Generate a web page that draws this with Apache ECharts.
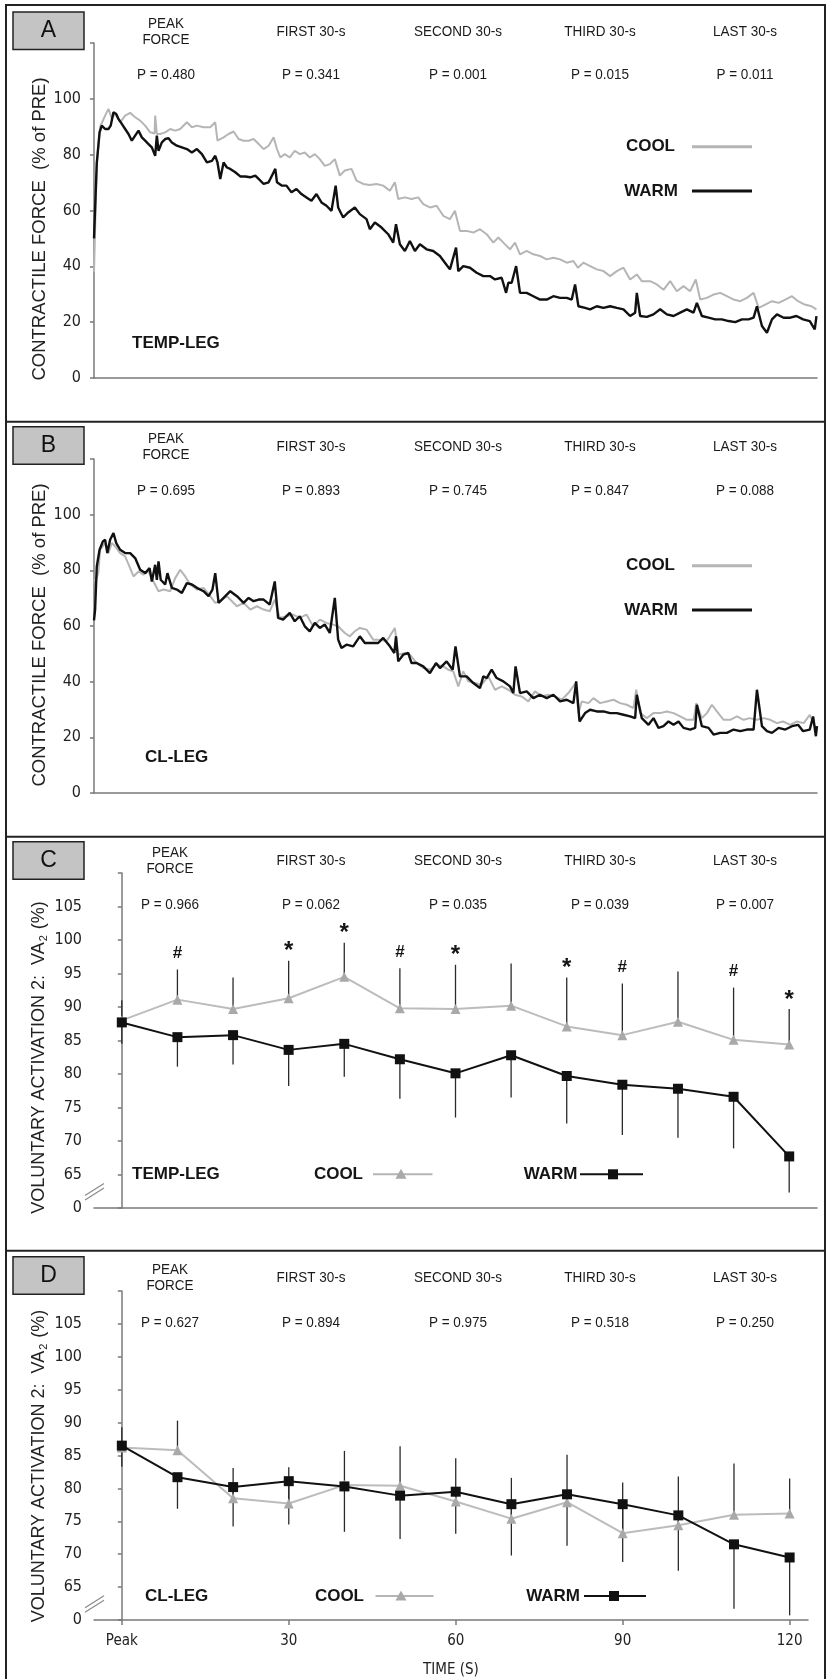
<!DOCTYPE html>
<html>
<head>
<meta charset="utf-8">
<script src="https://cdn.jsdelivr.net/npm/echarts@6/dist/echarts.min.js"></script>
<style>
html,body{margin:0;padding:0;background:#fff;}
#chart{width:827px;height:1679px;}
</style>
</head>
<body>
<div id="chart"></div>
<script>
// ---------------- DATA ----------------
const sections = ['PEAK\nFORCE', 'FIRST 30-s', 'SECOND 30-s', 'THIRD 30-s', 'LAST 30-s'];
const pA = ['0.480', '0.341', '0.001', '0.015', '0.011'];
const pB = ['0.695', '0.893', '0.745', '0.847', '0.088'];
const pC = ['0.966', '0.062', '0.035', '0.039', '0.007'];
const pD = ['0.627', '0.894', '0.975', '0.518', '0.250'];

// Panel A traces [time (s), force %PRE]
const aCool = [[0,38],[0.5,77],[1.1,90],[2.0,94],[2.6,96.4],[3.2,93],[3.8,94.6],[4.7,91.6],[5.6,94],[6.5,95],[7.4,93.4],[8.3,92.2],[9.2,90.4],[10.1,88],[10.9,87.6],[11.0,94],[11.3,87.4],[11.9,87.4],[12.8,88],[13.7,89.2],[14.6,88.6],[15.5,89.2],[16.7,91.6],[17.6,89.8],[18.5,90.4],[19.7,89.8],[20.9,89.8],[21.8,91.6],[22.2,85],[23.3,86.2],[24.2,87.4],[25.1,88.3],[26.0,85.6],[26.9,85],[27.8,85],[28.7,85.6],[29.6,83.8],[30.5,82],[31.4,83.2],[32.3,86.2],[32.9,82],[33.5,79],[34.3,80.2],[35.2,79],[36.1,81.4],[37.0,80.2],[37.9,80.8],[38.8,79],[39.7,80.2],[40.6,78.4],[41.5,76],[42.4,76.6],[43.3,78.4],[44.2,72.5],[45.1,74.3],[46.3,74.9],[47.2,70.7],[48.4,69.5],[49.6,69.1],[50.8,69.5],[52.0,68.9],[53.2,67.1],[54.1,70.1],[54.7,64.1],[55.9,64.7],[57.1,64.1],[58.3,64.7],[59.2,62.3],[60.4,61.1],[61.6,61.7],[62.8,58.1],[64.0,56.9],[64.9,59.9],[65.8,52.7],[67.0,52.7],[68.2,52.1],[69.4,53.3],[70.6,51.5],[71.8,48.5],[72.7,50.3],[73.6,48.5],[74.8,46.1],[75.7,48.5],[76.6,44.3],[77.8,45.5],[79.0,44.3],[80.2,43.7],[81.4,42.5],[82.6,43.1],[83.8,42.5],[85.0,41.3],[86.2,41.9],[87.0,39.5],[88.0,41.3],[89.2,40.1],[90.4,38.9],[91.6,38.3],[92.8,36.5],[94.0,38.3],[95.2,39.5],[96.4,35.3],[97.6,37.1],[98.5,34.7],[100.0,34.7],[101.2,33.5],[102.4,31.6],[103.6,34.7],[104.8,31.1],[106.0,32.9],[107.2,31.1],[108.2,35.3],[109.0,28.1],[110.2,28.7],[111.4,29.9],[112.6,30.5],[113.8,29.3],[115.0,28.1],[116.2,27.5],[117.4,28.7],[118.6,30.5],[119.5,25.1],[120.7,26.3],[121.9,27.5],[123.1,26.9],[124.3,28.1],[125.5,29.3],[126.6,27.5],[127.8,26.3],[129.0,25.7],[129.9,24.6]];
const aWarm = [[0,50],[0.5,77],[1.0,88],[1.4,90.4],[2.0,89.2],[2.6,89.2],[3.0,90.4],[3.5,95.2],[4.0,94.6],[4.4,92.8],[5.0,91],[5.6,89.2],[6.2,87.4],[6.8,85],[7.4,86.8],[8.0,88.6],[8.6,86.2],[9.2,85],[9.8,83.8],[10.4,82.6],[11.0,79.6],[11.3,86.8],[11.6,81.4],[12.2,84.4],[12.8,85.6],[13.4,85.9],[14.0,84.4],[14.9,83.2],[15.8,82.6],[16.7,82],[17.6,80.8],[18.5,82],[19.4,80.2],[20.3,77.2],[21.2,77.8],[21.8,79.6],[22.2,77.2],[22.7,71.3],[23.3,77.2],[23.9,75.4],[24.5,74.9],[25.4,73.7],[26.3,72.2],[27.2,72.2],[28.1,71.9],[29.0,72.5],[29.6,71.3],[30.5,69.5],[31.4,70.1],[32.3,73.7],[32.6,74.9],[32.9,70.1],[33.8,68.9],[34.6,68.9],[35.5,66.5],[36.4,67.7],[37.3,65.9],[38.2,64.7],[39.1,63.5],[40.0,65.9],[40.9,62.9],[41.8,61.7],[42.7,59.9],[43.0,59.9],[43.45,68.9],[43.9,61.1],[44.8,57.5],[45.7,59.3],[46.9,61.1],[47.8,58.7],[49.0,56.9],[49.6,53.3],[50.5,55.7],[51.7,53.9],[52.9,51.5],[53.8,48.5],[54.3,55.1],[55.0,47.9],[55.9,45.5],[56.8,49.1],[57.7,45.5],[58.6,47.9],[59.8,46.1],[61.0,45.5],[62.2,43.7],[63.1,41.3],[64.0,38.9],[65.1,46.7],[65.5,38.3],[66.4,40.1],[67.6,39.5],[68.8,37.7],[70.0,36.5],[71.2,36.5],[72.1,35.3],[73.3,35.9],[74.1,30.5],[74.5,34.1],[75.1,34.1],[75.9,40.1],[76.6,30.5],[77.8,30.5],[79.0,29.3],[80.2,28.1],[81.4,28.1],[82.6,29.3],[83.8,28.7],[85.0,28.7],[85.9,28.1],[86.5,33.5],[87.1,25.7],[88.3,25.1],[89.2,24.6],[90.4,25.7],[91.6,25.1],[92.8,25.7],[94.0,25.1],[95.2,24.6],[96.4,22.2],[97.3,23.4],[97.6,30.5],[98.2,22.2],[99.4,21.9],[100.6,22.8],[101.8,24.6],[103.0,22.8],[104.2,22.2],[105.4,23.4],[106.6,24.6],[107.8,23.4],[108.4,26.9],[109.3,22.2],[110.5,21.6],[111.7,21.0],[112.9,21.0],[114.1,20.4],[115.3,20.0],[116.5,21.0],[117.7,21.0],[118.6,21.6],[119.2,25.7],[120.1,18.6],[121.0,16.2],[121.9,21.0],[122.8,22.8],[124.0,21.6],[125.2,21.6],[126.3,22.2],[127.5,21.0],[128.7,20.4],[129.6,17.4],[129.9,22.2]];

// Panel B traces
const bCool = [[0,76],[0.5,77.2],[0.8,79.6],[1.1,87.4],[2.0,89.8],[2.6,86.2],[3.2,89.8],[3.8,88.6],[4.7,86.2],[5.6,85],[6.5,80.8],[7.1,77.8],[8.0,79.6],[8.9,78.4],[9.8,79.6],[10.7,76],[11.6,72.5],[12.5,73.1],[13.7,72.5],[14.6,77.2],[15.5,80.2],[16.4,77.8],[17.3,74.9],[18.5,73.1],[19.7,73.7],[20.9,70.7],[21.8,68.3],[22.7,68.9],[23.9,70.7],[24.8,68.9],[25.7,67.1],[26.9,68.3],[28.1,65.9],[29.3,67.1],[30.5,65.9],[31.6,65.3],[32.5,69.5],[33.4,62.9],[34.6,63.5],[35.8,64.1],[37.0,62.9],[38.2,64.1],[39.4,59.9],[40.6,62.3],[41.8,61.1],[43.0,60.5],[43.9,59.9],[45.1,57.5],[46.0,56.3],[46.9,58.1],[47.8,59.3],[49.0,58.7],[50.2,55.1],[51.4,55.1],[52.6,54.5],[54.1,59.3],[54.7,49.7],[55.9,50.3],[56.8,49.7],[58.0,46.7],[59.2,44.9],[60.4,44.3],[61.6,46.1],[62.8,45.5],[63.7,44.3],[64.6,43.7],[65.5,38.3],[66.4,43.7],[67.3,40.1],[68.5,39.5],[69.7,38.9],[70.9,41.9],[72.1,37.1],[73.3,38.3],[74.5,37.1],[75.7,35.3],[76.9,34.7],[78.1,32.9],[79.3,36.5],[80.5,34.7],[81.7,35.3],[82.9,34.7],[84.1,33.5],[85.3,35.9],[86.6,39.5],[87.1,28.7],[87.7,32.9],[88.9,32.3],[89.8,34.1],[91.0,32.3],[92.2,32.9],[93.4,33.5],[94.6,32.3],[95.8,31.7],[97.0,30.5],[97.5,37.1],[98.2,28.7],[99.4,26.9],[100.6,28.7],[101.8,28.7],[103.0,29.3],[104.2,28.7],[105.4,27.5],[106.6,26.3],[107.8,26.3],[108.3,32.3],[109.3,26.9],[110.2,28.7],[111.1,31.7],[112.0,29.3],[113.2,26.3],[114.4,26.3],[115.6,27.5],[116.8,26.3],[117.9,26.9],[119.2,26.3],[120.4,26.9],[121.6,26.3],[122.8,25.1],[123.9,25.7],[125.2,24.5],[126.4,25.7],[127.6,25.1],[128.7,28.1],[129.6,24.0]];
const bWarm = [[0,62],[0.2,65.9],[0.5,81.4],[1.0,87.4],[1.6,90.4],[2.0,91],[2.4,86.2],[2.9,91],[3.5,93.4],[4.0,89.8],[4.7,87.4],[5.6,86.2],[6.5,86.2],[7.4,84.4],[8.3,80.2],[9.2,79],[10.0,80.8],[10.4,76],[11.0,82],[11.3,76.6],[11.6,83.2],[12.0,76.6],[12.8,74.9],[13.2,79],[14.0,73.7],[14.9,73.1],[15.8,71.9],[16.7,75.4],[17.6,74.9],[18.5,73.7],[19.7,72.5],[20.6,70.7],[21.3,73.1],[21.8,79],[22.4,68.3],[23.3,70.1],[24.5,72.5],[25.7,70.7],[26.9,68.3],[27.8,70.1],[28.7,68.9],[29.6,69.5],[30.5,69.5],[31.6,67.7],[32.5,76],[33.1,62.9],[34.0,62.3],[35.2,64.7],[36.1,61.7],[37.0,63.5],[37.9,59.9],[38.8,58.1],[39.7,61.1],[40.6,59.3],[41.5,60.5],[42.4,57.5],[43.3,70.1],[43.9,55.1],[44.5,52.1],[45.4,53.3],[46.6,52.7],[47.8,56.3],[48.7,53.9],[49.9,53.9],[51.1,53.9],[52.0,55.7],[53.2,52.7],[54.0,50.3],[54.3,56.3],[54.7,47.3],[55.6,49.7],[56.5,50.3],[57.1,46.7],[58.0,46.7],[59.2,45.5],[60.4,43.1],[61.5,46.7],[62.2,44.9],[63.4,47.3],[64.5,44.3],[65.0,52.7],[65.8,41.9],[67.0,41.9],[68.2,39.5],[69.4,37.7],[70.0,41.9],[70.6,41.3],[71.5,44.3],[72.4,41.3],[73.6,40.1],[74.8,38.3],[75.4,35.9],[75.8,45.5],[76.6,35.9],[77.8,36.5],[79.0,34.1],[80.2,35.3],[81.4,34.1],[82.6,35.3],[83.8,32.9],[85.0,33.5],[86.2,32.3],[86.7,40.1],[87.3,25.7],[88.3,28.7],[89.2,29.9],[90.4,29.3],[91.6,29.3],[92.8,28.7],[94.0,28.7],[95.2,28.1],[96.4,27.5],[97.3,26.9],[97.6,35.3],[98.5,26.9],[99.7,24.5],[100.6,26.9],[101.5,23.4],[102.4,24.0],[103.3,25.7],[104.2,24.5],[105.1,25.7],[106.0,23.4],[107.2,22.8],[108.1,23.4],[108.4,31.7],[109.3,24.0],[110.5,23.4],[111.4,21.0],[112.6,21.6],[113.8,21.6],[115.0,22.8],[116.2,22.2],[117.4,22.8],[118.6,22.8],[119.2,37.1],[120.1,24.0],[121.0,22.2],[121.9,21.6],[123.1,23.4],[124.3,22.8],[125.5,24.0],[126.6,24.5],[127.5,22.2],[128.7,22.8],[129.3,27.5],[129.8,20.4],[130.0,24.0]];

// Panels C & D : voluntary activation (VA2, %)
const vaTime = [0, 10, 20, 30, 40, 50, 60, 70, 80, 90, 100, 110, 120];
const cCoolMean = [88.0, 91.1, 89.7, 91.3, 94.5, 89.8, 89.7, 90.2, 87.1, 85.8, 87.8, 85.1, 84.4];
const cCoolTop  = [91.0, 95.6, 94.4, 96.9, 99.6, 95.8, 96.3, 96.5, 94.4, 93.5, 95.3, 92.9, 89.7];
const cWarmMean = [87.7, 85.5, 85.8, 83.6, 84.5, 82.2, 80.1, 82.8, 79.7, 78.4, 77.8, 76.6, 67.7];
const cWarmLow  = [84.5, 81.1, 81.4, 78.2, 79.6, 76.3, 73.5, 76.5, 72.6, 70.9, 70.5, 68.9, 62.3];
const cSig      = ['', '#', '', '*', '*', '#', '*', '', '*', '#', '', '#', '*'];
const dCoolMean = [86.2, 85.8, 78.5, 77.7, 80.5, 80.4, 78.0, 75.4, 77.9, 73.2, 74.4, 76.0, 76.2];
const dCoolTop  = [89.3, 90.3, 83.1, 83.2, 85.7, 86.4, 84.6, 81.6, 85.1, 80.9, 81.8, 83.8, 81.5];
const dWarmMean = [86.5, 81.7, 80.2, 81.1, 80.3, 78.9, 79.5, 77.6, 79.1, 77.6, 75.9, 71.5, 69.5];
const dWarmLow  = [83.3, 76.9, 74.2, 74.5, 73.4, 72.3, 73.1, 69.8, 71.3, 68.8, 67.5, 61.7, 60.7];
const timeTicks = [0, 30, 60, 90, 120];
const timeTickLabels = ['Peak', '30', '60', '90', '120'];

// ---------------- STYLE / LAYOUT ----------------
const NARROW = "'Liberation Sans Narrow','Arial Narrow','DejaVu Sans Condensed',sans-serif";
const SANS = "'Liberation Sans',Arial,sans-serif";
const GRAY = '#b5b5b5';
const AXIS = '#7a7a7a';

const chart = echarts.init(document.getElementById('chart'), null, {renderer: 'canvas'});

const panels = [
  {letter: 'A', boxTop: 12,    hdr: 31.5,   pY: 75,     peakX: 166, titleY: 229,  p: pA, tag: 'TEMP-LEG', tagX: 132, tagY: 343.3, legCool: 146.7, legWarm: 191, kind: 'force'},
  {letter: 'B', boxTop: 426.7, hdr: 446.5,  pY: 490.7,  peakX: 166, titleY: 635,  p: pB, tag: 'CL-LEG',   tagX: 145, tagY: 757.3, legCool: 565.7, legWarm: 610, kind: 'force'},
  {letter: 'C', boxTop: 841.7, hdr: 861.3,  pY: 905,    peakX: 170, titleY: 1057.5, p: pC, tag: 'TEMP-LEG', tagX: 132, tagY: 1174.3, leg: 1174.3, kind: 'va', coolTx: 363, coolL: [373, 432.5], coolSym: 401, warmTx: 577.5, warmL: [580, 643], warmSym: 613},
  {letter: 'D', boxTop: 1256.7, hdr: 1277.8, pY: 1323.3, peakX: 170, titleY: 1466, p: pD, tag: 'CL-LEG',   tagX: 145, tagY: 1596, leg: 1596, kind: 'va', coolTx: 364, coolL: [375.5, 433.5], coolSym: 401, warmTx: 580, warmL: [584, 646], warmSym: 614}
];
const hdrX = [null, 311, 458, 600, 745];

const g = [];
// outer frame & separators
g.push({type: 'rect', z: 50, shape: {x: 6, y: 5, width: 819, height: 1690}, style: {fill: 'none', stroke: '#222', lineWidth: 2}});
[421.7, 836.7, 1250.7].forEach(y => g.push({type: 'line', z: 50, shape: {x1: 6, y1: y, x2: 825, y2: y}, style: {stroke: '#222', lineWidth: 2}}));

function text(x, y, s, o) {
  return {type: 'text', z: 60, x: x, y: y, style: Object.assign({text: s, textAlign: 'center', textVerticalAlign: 'middle', fill: '#151515', fontFamily: NARROW, fontSize: 15}, o || {})};
}
function hdrText(x, y, s) {
  const t = text(x, y, s, {fontFamily: SANS, fontSize: 15, lineHeight: 16, fill: '#1a1a1a'});
  t.scaleX = 0.9;
  return t;
}

panels.forEach(P => {
  // letter box
  g.push({type: 'rect', z: 70, shape: {x: 13, y: P.boxTop, width: 71, height: 37.5}, style: {fill: '#c4c4c4', stroke: '#222', lineWidth: 1.5}});
  g.push(Object.assign(text(48.5, P.boxTop + 19, P.letter, {fontFamily: SANS, fontSize: 23, fill: '#111'}), {z: 71}));
  // section headers + p values
  sections.forEach((s, i) => {
    const x = i === 0 ? P.peakX : hdrX[i];
    g.push(hdrText(x, P.hdr, s));
    g.push(hdrText(x, P.pY, 'P = ' + P.p[i]));
  });
  // y-axis title
  if (P.kind === 'force') {
    g.push({type: 'text', z: 60, x: 39.5, y: P.titleY, rotation: Math.PI / 2,
      style: {text: 'CONTRACTILE FORCE  (% of PRE)', textAlign: 'center', textVerticalAlign: 'middle', fontFamily: SANS, fontSize: 18.5, fill: '#222'}});
    // legend
    g.push(text(675, P.legCool, 'COOL', {textAlign: 'right', fontFamily: SANS, fontWeight: 'bold', fontSize: 17}));
    g.push({type: 'line', z: 60, shape: {x1: 692, y1: P.legCool, x2: 752, y2: P.legCool}, style: {stroke: GRAY, lineWidth: 3}});
    g.push(text(678, P.legWarm, 'WARM', {textAlign: 'right', fontFamily: SANS, fontWeight: 'bold', fontSize: 17}));
    g.push({type: 'line', z: 60, shape: {x1: 692, y1: P.legWarm, x2: 752, y2: P.legWarm}, style: {stroke: '#111', lineWidth: 3}});
  } else {
    g.push({type: 'text', z: 60, x: 39.5, y: P.titleY, rotation: Math.PI / 2,
      style: {text: 'VOLUNTARY ACTIVATION 2:  VA{s|2} (%)', textAlign: 'center', textVerticalAlign: 'middle', fontFamily: SANS, fontSize: 18, fill: '#222',
        rich: {s: {fontFamily: SANS, fontSize: 11, fill: '#222', padding: [9, 1, 0, 1]}}}});
    g.push(text(P.coolTx, P.leg, 'COOL', {textAlign: 'right', fontFamily: SANS, fontWeight: 'bold', fontSize: 17}));
    g.push({type: 'line', z: 60, shape: {x1: P.coolL[0], y1: P.leg, x2: P.coolL[1], y2: P.leg}, style: {stroke: GRAY, lineWidth: 2}});
    g.push({type: 'polygon', z: 61, shape: {points: [[P.coolSym - 5.5, P.leg + 4.5], [P.coolSym + 5.5, P.leg + 4.5], [P.coolSym, P.leg - 5.5]]}, style: {fill: '#a9a9a9'}});
    g.push(text(P.warmTx, P.leg, 'WARM', {textAlign: 'right', fontFamily: SANS, fontWeight: 'bold', fontSize: 17}));
    g.push({type: 'line', z: 60, shape: {x1: P.warmL[0], y1: P.leg, x2: P.warmL[1], y2: P.leg}, style: {stroke: '#111', lineWidth: 2}});
    g.push({type: 'rect', z: 61, shape: {x: P.warmSym - 5, y: P.leg - 5, width: 10, height: 10}, style: {fill: '#111'}});
  }
  g.push(text(P.tagX, P.tagY, P.tag, {textAlign: 'left', fontFamily: SANS, fontWeight: 'bold', fontSize: 17}));
});

// ---------------- AXES ----------------
const axisLine = {show: true, lineStyle: {color: AXIS, width: 1.5}};
const grids = [
  {left: 94, top: 43, width: 723, height: 335},
  {left: 94, top: 459, width: 723, height: 334},
  {left: 94, top: 873, width: 723, height: 335},
  {left: 94, top: 1291, width: 714, height: 333}
];
const xAxes = [
  {gridIndex: 0, type: 'value', min: 0, max: 130, axisLine, axisTick: {show: false}, axisLabel: {show: false}, splitLine: {show: false}},
  {gridIndex: 1, type: 'value', min: 0, max: 130, axisLine, axisTick: {show: false}, axisLabel: {show: false}, splitLine: {show: false}},
  {gridIndex: 2, type: 'value', min: -5, max: 125, axisLine, axisTick: {show: false}, axisLabel: {show: false}, splitLine: {show: false}},
  {gridIndex: 3, type: 'value', min: -5, max: 123.3, axisLine,
    axisTick: {show: true, customValues: timeTicks, length: 5, lineStyle: {color: AXIS, width: 1.5}},
    axisLabel: {show: true, customValues: timeTicks, margin: 14, fontFamily: NARROW, fontSize: 15, color: '#222',
      formatter: v => timeTickLabels[timeTicks.indexOf(v)]},
    splitLine: {show: false},
    name: 'TIME (S)', nameLocation: 'middle', nameGap: 43, nameTextStyle: {fontFamily: NARROW, fontSize: 15, color: '#222'}}
];
function yForce(i) {
  return {gridIndex: i, type: 'value', min: 0, max: 120, interval: 20, axisLine,
    axisTick: {show: true, length: 4, inside: false, lineStyle: {color: AXIS, width: 1.5}},
    axisLabel: {margin: 13, fontFamily: NARROW, fontSize: 16, color: '#222', formatter: v => (v === 120 ? '' : String(v))},
    splitLine: {show: false}};
}
function yVA(i) {
  return {gridIndex: i, type: 'value', min: 60, max: 110, interval: 5, axisLine,
    axisTick: {show: true, length: 4, lineStyle: {color: AXIS, width: 1.5}},
    axisLabel: {margin: 12, fontFamily: NARROW, fontSize: 16, color: '#222', formatter: v => (v === 60 ? '0' : String(v))},
    splitLine: {show: false}};
}
const yAxes = [yForce(0), yForce(1), yVA(2), yVA(3)];

// ---------------- SERIES ----------------
function trace(data, gi, color, w, z) {
  return {type: 'line', xAxisIndex: gi, yAxisIndex: gi, data: data, showSymbol: false, symbol: 'none',
    lineStyle: {color: color, width: w}, z: z, silent: true, animation: false};
}
function bars(gi, mean, end) {
  return {type: 'custom', xAxisIndex: gi, yAxisIndex: gi, z: 1, silent: true, animation: false,
    data: vaTime.map((t, i) => [t, mean[i], end[i]]),
    encode: {x: 0, y: [1, 2]},
    renderItem: (params, api) => {
      const x = api.value(0);
      const a = api.coord([x, api.value(1)]);
      const b = api.coord([x, api.value(2)]);
      return {type: 'line', shape: {x1: a[0], y1: a[1], x2: b[0], y2: b[1]}, style: {stroke: '#2a2a2a', lineWidth: 1.3}};
    }};
}
function vaLine(gi, mean, cool) {
  return {type: 'line', xAxisIndex: gi, yAxisIndex: gi, data: vaTime.map((t, i) => [t, mean[i]]),
    symbol: cool ? 'triangle' : 'rect', symbolSize: 10, showSymbol: true,
    itemStyle: {color: cool ? '#a9a9a9' : '#111', borderWidth: 0},
    lineStyle: {color: cool ? '#bcbcbc' : '#111', width: 2}, z: cool ? 3 : 4, silent: true, animation: false};
}
function breakMark(gi) {
  return {type: 'custom', xAxisIndex: gi, yAxisIndex: gi, z: 10, silent: true, animation: false, clip: false,
    data: [[-5, 62.4]],
    renderItem: (params, api) => {
      const p = api.coord([api.value(0), api.value(1)]);
      const x = p[0], y = p[1];
      return {type: 'group', children: [
        {type: 'polygon', shape: {points: [[x - 8, y + 7], [x + 10, y - 5], [x + 10, y - 9], [x - 8, y + 3]]}, style: {fill: '#fff'}},
        {type: 'line', shape: {x1: x - 9, y1: y + 8, x2: x + 10, y2: y - 4}, style: {stroke: '#8a8a8a', lineWidth: 1.2}},
        {type: 'line', shape: {x1: x - 9, y1: y + 3.5, x2: x + 10, y2: y - 8.5}, style: {stroke: '#8a8a8a', lineWidth: 1.2}}
      ]};
    }};
}
const sigData = vaTime.map((t, i) => [t, cCoolTop[i], i]).filter(r => cSig[r[2]] !== '');
const sigSeries = {type: 'custom', xAxisIndex: 2, yAxisIndex: 2, z: 6, silent: true, animation: false, clip: false,
  data: sigData,
  renderItem: (params, api) => {
    const p = api.coord([api.value(0), api.value(1)]);
    const s = cSig[api.value(2)];
    const star = s === '*';
    return {type: 'text', x: p[0], y: p[1] - (star ? 9 : 16),
      style: {text: s, textAlign: 'center', textVerticalAlign: 'middle', fontFamily: SANS, fontWeight: 'bold', fontSize: star ? 24 : 17, fill: '#151515'}};
  }};

const series = [
  trace(aCool, 0, GRAY, 2, 2),
  trace(aWarm, 0, '#111', 2.4, 3),
  trace(bCool, 1, GRAY, 2, 2),
  trace(bWarm, 1, '#111', 2.4, 3),
  bars(2, cCoolMean, cCoolTop),
  bars(2, cWarmMean, cWarmLow),
  vaLine(2, cCoolMean, true),
  vaLine(2, cWarmMean, false),
  sigSeries,
  breakMark(2),
  bars(3, dCoolMean, dCoolTop),
  bars(3, dWarmMean, dWarmLow),
  vaLine(3, dCoolMean, true),
  vaLine(3, dWarmMean, false),
  breakMark(3)
];

chart.setOption({
  animation: false,
  backgroundColor: '#fff',
  grid: grids,
  xAxis: xAxes,
  yAxis: yAxes,
  series: series,
  graphic: {elements: g}
});
</script>
</body>
</html>
